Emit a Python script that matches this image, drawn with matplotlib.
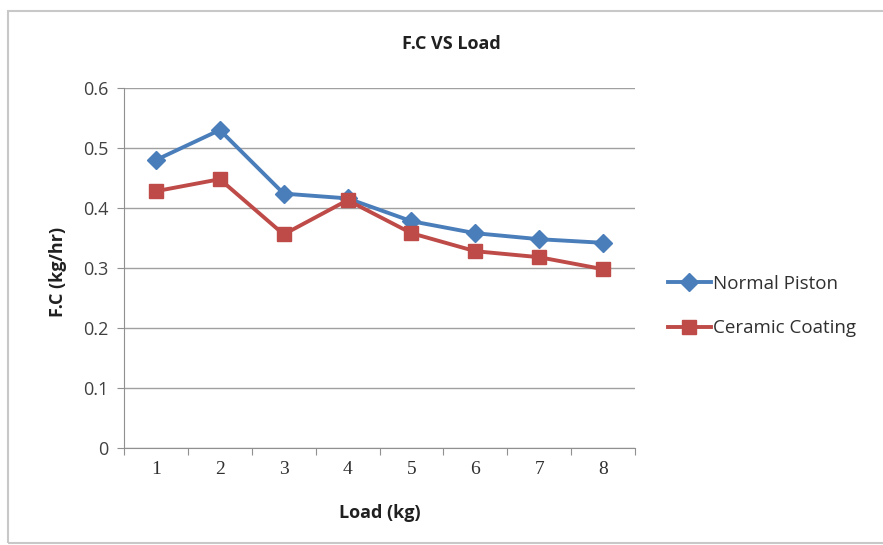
import matplotlib.pyplot as plt
from matplotlib.patches import Rectangle

# Fuel consumption against load
load = [1, 2, 3, 4, 5, 6, 7, 8]
normal_piston = [0.48, 0.53, 0.424, 0.416, 0.378, 0.358, 0.348, 0.342]
ceramic_coating = [0.428, 0.448, 0.356, 0.413, 0.358, 0.328, 0.318, 0.298]
y_ticks = [0, 0.1, 0.2, 0.3, 0.4, 0.5, 0.6]

azul = '#4a7ebb'
vermelho = '#be4b48'
fonte = ['Open Sans', 'DejaVu Sans']

fig = plt.figure(figsize=(8.83, 5.45), dpi=100)
ax = fig.add_axes([124 / 883, 1 - 448 / 545, (635 - 124) / 883, (448 - 88) / 545])

# moldura externa do grafico
fig.patches.append(Rectangle((8 / 883, 2 / 545), 1.0, 532 / 545, transform=fig.transFigure,
                             fill=False, edgecolor='#c8c8c8', linewidth=1.5))

ax.plot(load, normal_piston, color=azul, marker='D', markersize=9, linewidth=2.8,
        label='Normal Piston')
ax.plot(load, ceramic_coating, color=vermelho, marker='s', markersize=10.5, linewidth=2.8,
        label='Ceramic Coating')

ax.set_xlim(0.5, 8.5)
ax.set_ylim(0, 0.6)
ax.set_yticks(y_ticks)
ax.set_yticklabels([f'{v:g}' for v in y_ticks], fontfamily=fonte, fontsize=13, color='#404040')
ax.yaxis.grid(True, color='#a0a0a0', linewidth=1)
ax.set_axisbelow(True)

# ticks entre categorias, estilo Excel
ax.set_xticks([x + 0.5 for x in range(0, 9)])
ax.set_xticklabels([])
ax.set_xticks(load, minor=True)
ax.set_xticklabels([str(x) for x in load], minor=True, fontfamily='Liberation Serif',
                   fontsize=14, color='#303030')
ax.tick_params(axis='x', which='major', direction='out', length=5, color='#909090')
ax.tick_params(axis='x', which='minor', length=0, pad=9)
ax.tick_params(axis='y', direction='out', length=5, color='#909090', pad=6)

for lado in ['top', 'right']:
    ax.spines[lado].set_visible(False)
ax.spines['left'].set_color('#909090')
ax.spines['bottom'].set_color('#909090')

fig.text(451 / 883, 1 - 44 / 545, 'F.C VS Load', ha='center', va='center',
         fontsize=13, fontweight='bold', fontfamily=fonte, color='#202020')
ax.set_xlabel('Load (kg)', fontsize=13, fontweight='bold', fontfamily=fonte,
              color='#202020', labelpad=19)
fig.text(58 / 883, 1 - 272 / 545, 'F.C (kg/hr)', rotation=90, ha='center', va='center',
         fontsize=13, fontweight='bold', fontfamily=fonte, color='#202020')

fig.legend(loc='upper left', bbox_to_anchor=(651 / 883, 1 - 258 / 545), frameon=False,
           prop={'family': fonte, 'size': 13.5}, handlelength=2.3, handletextpad=0.1,
           labelspacing=1.4, labelcolor='#303030')

fig.savefig('out.png', dpi=100)
